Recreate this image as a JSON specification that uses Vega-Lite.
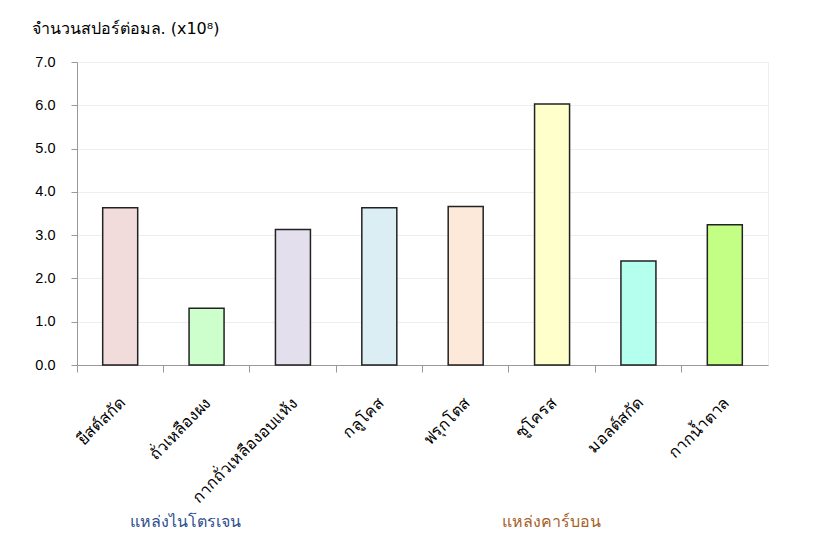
{
  "$schema": "https://vega.github.io/schema/vega-lite/v6.json",
  "autosize": {"type": "none"},
  "width": 691,
  "height": 303,
  "padding": {"left": 77, "top": 62, "right": 59, "bottom": 176},
  "background": "white",
  "config": {
    "view": {"stroke": "#eeeeee"},
    "font": "Liberation Sans"
  },
  "datasets": {
    "bars": [
      {"name": "ยีสต์สกัด", "value": 3.63, "color": "#F2DCDB"},
      {"name": "ถั่วเหลืองผง", "value": 1.31, "color": "#CCFFCC"},
      {"name": "กากถั่วเหลืองอบแห้ง", "value": 3.13, "color": "#E4DFEC"},
      {"name": "กลูโคส", "value": 3.63, "color": "#DAEEF3"},
      {"name": "ฟรุกโตส", "value": 3.66, "color": "#FDE9D9"},
      {"name": "ซูโครส", "value": 6.03, "color": "#FFFFCC"},
      {"name": "มอลต์สกัด", "value": 2.40, "color": "#B5FFEE"},
      {"name": "กากน้ำตาล", "value": 3.24, "color": "#C2FF84"}
    ],
    "groups": [
      {"name": "ถั่วเหลืองผง", "label": "แหล่งไนโตรเจน", "color": "#2E4E8E", "shift": 22},
      {"name": "ซูโครส", "label": "แหล่งคาร์บอน", "color": "#A85F2A", "shift": 43}
    ]
  },
  "layer": [
    {
      "data": {"name": "bars"},
      "mark": {"type": "bar", "width": 35, "stroke": "#222222", "strokeWidth": 1.5},
      "encoding": {
        "x": {
          "field": "name", "type": "nominal", "sort": null,
          "scale": {"paddingInner": 0, "paddingOuter": 0},
          "axis": {
            "title": null,
            "bandPosition": 0,
            "labelAngle": -45,
            "labelAlign": "right",
            "labelBaseline": "middle",
            "labelFontSize": 16,
            "labelColor": "#000000",
            "labelPadding": 28,
            "labelOffset": 2,
            "labelFont": "DejaVu Sans",
            "tickSize": 7,
            "tickColor": "#999999",
            "domainColor": "#999999",
            "grid": false
          }
        },
        "y": {
          "field": "value", "type": "quantitative",
          "scale": {"domain": [0, 7], "nice": false},
          "axis": {
            "title": "จำนวนสปอร์ต่อมล. (x10⁸)",
            "titleAngle": 0,
            "titleAlign": "left",
            "titleBaseline": "alphabetic",
            "titleX": -46,
            "titleY": -29,
            "titleFontSize": 16,
            "titleFontWeight": "normal",
            "titleColor": "#000000",
            "titleFont": "DejaVu Sans",
            "values": [0, 1, 2, 3, 4, 5, 6, 7],
            "format": ".1f",
            "labelFontSize": 14.5,
            "labelColor": "#000000",
            "labelPadding": 16,
            "tickSize": 6,
            "tickColor": "#999999",
            "domainColor": "#999999",
            "gridColor": "#eeeeee"
          }
        },
        "fill": {"field": "color", "type": "nominal", "scale": null}
      }
    },
    {
      "data": {"name": "groups"},
      "mark": {"type": "text", "fontSize": 16, "baseline": "middle", "align": "center", "dy": 157, "font": "DejaVu Sans"},
      "encoding": {
        "x": {"field": "name", "type": "nominal", "sort": null},
        "xOffset": {"field": "shift", "type": "quantitative", "scale": {"domain": [0, 86], "range": [0, 86]}},
        "y": {"datum": 0},
        "text": {"field": "label"},
        "color": {"field": "color", "type": "nominal", "scale": null}
      }
    }
  ]
}
